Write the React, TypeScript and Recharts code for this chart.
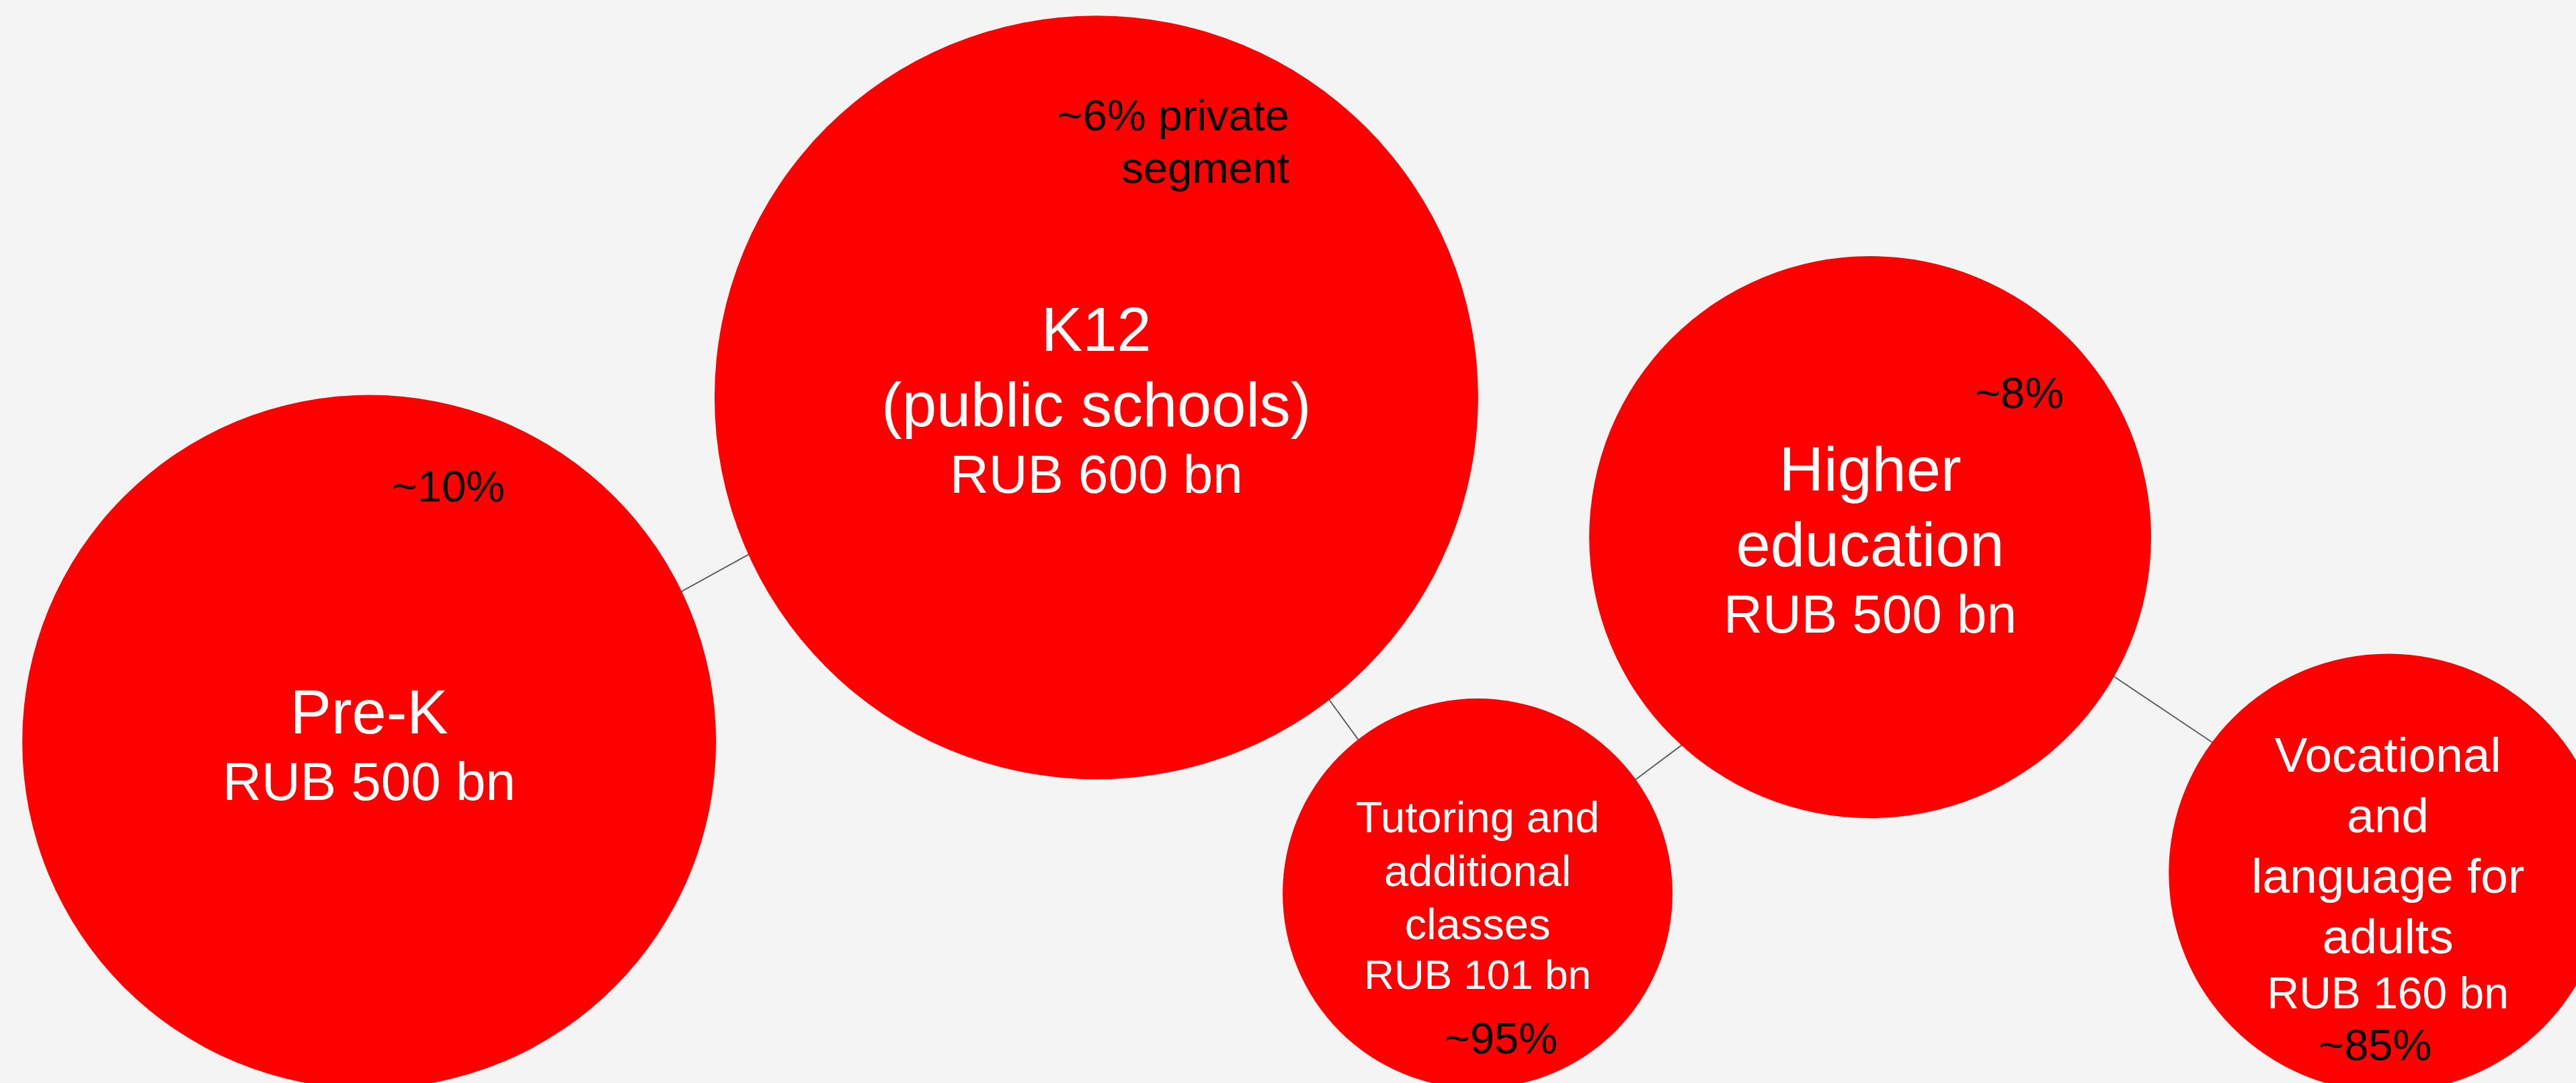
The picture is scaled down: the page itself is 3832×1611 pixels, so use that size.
import React from 'react';
import { ScatterChart, Scatter, XAxis, YAxis, ZAxis } from 'recharts';

// ---- Data ----
const categories = ['Pre-K', 'K12', 'Tutoring', 'Higher education', 'Vocational and language for adults'];
const titleLines = [
  ['Pre-K'],
  ['K12', '(public schools)'],
  ['Tutoring and', 'additional', 'classes'],
  ['Higher', 'education'],
  ['Vocational', 'and', 'language for', 'adults'],
];
const marketSizeRubBn = [500, 600, 101, 500, 160];
const privateShareLabels = [['~10%'], ['~6% private', 'segment'], ['~95%'], ['~8%'], ['~85%']];
// bubble placement (percent of canvas, y measured from bottom) and relative bubble area
const bubbleX = [14.33, 42.56, 57.36, 72.6, 92.7];
const bubbleY = [31.5, 63.3, 17.5, 50.4, 19.4];
const bubbleArea = [2663, 3226, 841, 1747, 1063];
// connectors between bubbles: [from, to]
const connectorPairs = [
  [0, 1],
  [1, 2],
  [2, 3],
  [3, 4],
];

const data = categories.map((c, i) => ({
  name: c,
  x: bubbleX[i],
  y: bubbleY[i],
  z: bubbleArea[i],
  lines: titleLines[i],
  value: marketSizeRubBn[i],
  share: privateShareLabels[i],
  idx: i,
}));

// ---- Styles / layout ----
const W = 3832;
const H = 1611;
const FONT = '"Liberation Sans", Arial, Helvetica, sans-serif';
const RED = '#ff0000';
const BG = '#f4f4f4';
const LINE = '#606060';
const Z_DOMAIN_MAX = 4000;
const Z_PX_PER_UNIT = 100; // area px^2 per z unit -> r = 10*sqrt(z)

// attachment angles (degrees, screen orientation) of each connector on its two bubbles
const connectorAngles = [
  [-25.7, 155.7],
  [52.4, -127.8],
  [-35.8, 132.2],
  [29.75, -143.4],
];

const textLayout = [
  { titleFont: 92, first: -12.5, lh: 0, valueFont: 80, valueY: 86, shareFont: 65, shareAnchor: 'middle', shareDx: 118, shareY: -358, shareLh: 0 },
  { titleFont: 92, first: -69, lh: 112, valueFont: 80, valueY: 142, shareFont: 65, shareAnchor: 'end', shareDx: 287, shareY: -397, shareLh: 78 },
  { titleFont: 65, first: -91, lh: 79.5, valueFont: 62, valueY: 142, shareFont: 65, shareAnchor: 'middle', shareDx: 35, shareY: 238, shareLh: 0 },
  { titleFont: 92, first: -69, lh: 112, valueFont: 80, valueY: 142, shareFont: 65, shareAnchor: 'end', shareDx: 288, shareY: -192, shareLh: 0 },
  { titleFont: 73, first: -150, lh: 89.7, valueFont: 66, valueY: 201.5, shareFont: 65, shareAnchor: 'middle', shareDx: -19, shareY: 279, shareLh: 0 },
];

// connector endpoints derived from bubble data + attachment angles
const radiusPx = (i: number) => Math.sqrt((bubbleArea[i] * Z_PX_PER_UNIT * Math.PI) / Math.PI);
const edgePoint = (i: number, deg: number) => {
  const cx = (bubbleX[i] / 100) * W;
  const cy = ((100 - bubbleY[i]) / 100) * H;
  const r = radiusPx(i);
  const t = (deg * Math.PI) / 180;
  return [cx + r * Math.cos(t), cy + r * Math.sin(t)];
};
const connectors = connectorPairs.map(([a, b], k) => {
  const p = edgePoint(a, connectorAngles[k][0]);
  const q = edgePoint(b, connectorAngles[k][1]);
  const dx = q[0] - p[0];
  const dy = q[1] - p[1];
  const len = Math.sqrt(dx * dx + dy * dy);
  const ext = 8;
  const p2 = [p[0] - (dx / len) * ext, p[1] - (dy / len) * ext];
  const q2 = [q[0] + (dx / len) * ext, q[1] + (dy / len) * ext];
  return [p2, q2].map(([px, py]) => ({ x: (px / W) * 100, y: 100 - (py / H) * 100 }));
});

const Bubble = (props: any) => {
  const { cx, cy, payload } = props;
  const r = props.width ? props.width / 2 : Math.sqrt((props.size || 0) / Math.PI);
  const L = textLayout[payload.idx];
  return (
    <g>
      <circle cx={cx} cy={cy} r={r} fill={RED} />
      {payload.lines.map((t: string, k: number) => (
        <text
          key={'t' + k}
          x={cx}
          y={cy + L.first + k * L.lh}
          textAnchor="middle"
          fill="#ffffff"
          fontFamily={FONT}
          fontSize={L.titleFont}
        >
          {t}
        </text>
      ))}
      <text x={cx} y={cy + L.valueY} textAnchor="middle" fill="#ffffff" fontFamily={FONT} fontSize={L.valueFont}>
        {`RUB ${payload.value} bn`}
      </text>
      {payload.share.map((t: string, k: number) => (
        <text
          key={'s' + k}
          x={cx + L.shareDx}
          y={cy + L.shareY + k * L.shareLh}
          textAnchor={L.shareAnchor}
          fill="#000000"
          fontFamily={FONT}
          fontSize={L.shareFont}
        >
          {t}
        </text>
      ))}
    </g>
  );
};

const Empty = () => <g />;

export default function App() {
  return (
    <div style={{ position: 'fixed', left: 0, top: 0, width: W, height: H, background: BG, overflow: 'hidden' }}>
      <ScatterChart width={W} height={H} margin={{ top: 0, right: 0, bottom: 0, left: 0 }}>
        <XAxis type="number" dataKey="x" domain={[0, 100]} hide />
        <YAxis type="number" dataKey="y" domain={[0, 100]} hide />
        <ZAxis type="number" dataKey="z" domain={[0, Z_DOMAIN_MAX]} range={[0, Z_DOMAIN_MAX * Z_PX_PER_UNIT * Math.PI]} />
        {connectors.map((seg, k) => (
          <Scatter
            key={'c' + k}
            data={seg}
            isAnimationActive={false}
            line={{ stroke: LINE, strokeWidth: 2 }}
            shape={<Empty />}
          />
        ))}
        <Scatter data={data} isAnimationActive={false} shape={<Bubble />} />
      </ScatterChart>
    </div>
  );
}
